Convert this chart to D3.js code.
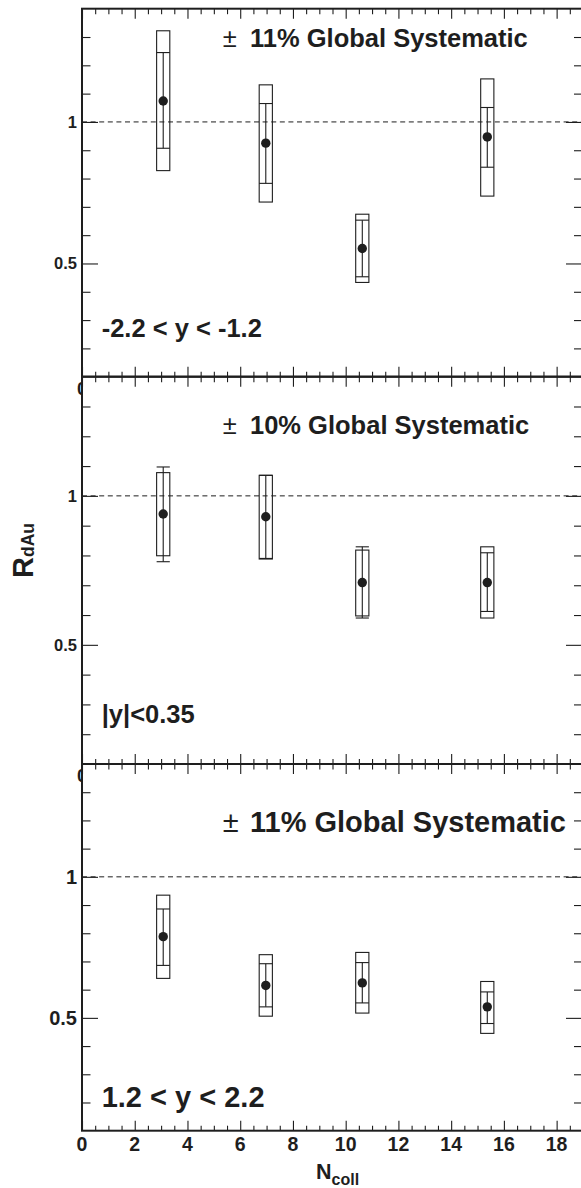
<!DOCTYPE html>
<html><head><meta charset="utf-8">
<script src="https://cdn.jsdelivr.net/npm/d3@7"></script>
<style>
body{margin:0;background:#fff}
svg{display:block}
text{font-family:"Liberation Sans",Arial,Helvetica,sans-serif;fill:#1e1e1e}
</style>
</head><body>
<svg id="c" width="581" height="1188"></svg>
<script>
// ---------------- data ----------------
const ncoll = [3.08, 6.97, 10.63, 15.37];

const rapidityLabels = ["-2.2 < y < -1.2", "|y|<0.35", "1.2 < y < 2.2"];
const globalSyst = ["11%", "10%", "11%"];

// panel 1 : -2.2 < y < -1.2
const p1Val    = [1.074, 0.925, 0.553, 0.947];
const p1StatHi = [1.245, 1.065, 0.653, 1.051];
const p1StatLo = [0.907, 0.783, 0.453, 0.840];
const p1SysHi  = [1.322, 1.131, 0.674, 1.152];
const p1SysLo  = [0.828, 0.717, 0.433, 0.738];

// panel 2 : |y| < 0.35
const p2Val    = [0.939, 0.930, 0.709, 0.709];
const p2StatHi = [1.097, 1.069, 0.829, 0.809];
const p2StatLo = [0.779, 0.790, 0.590, 0.612];
const p2SysHi  = [1.078, 1.069, 0.818, 0.829];
const p2SysLo  = [0.799, 0.788, 0.597, 0.590];

// panel 3 : 1.2 < y < 2.2
const p3Val    = [0.788, 0.615, 0.624, 0.539];
const p3StatHi = [0.886, 0.692, 0.696, 0.592];
const p3StatLo = [0.686, 0.539, 0.553, 0.480];
const p3SysHi  = [0.935, 0.724, 0.732, 0.629];
const p3SysLo  = [0.640, 0.506, 0.517, 0.445];

const xMajorTicks = [0, 2, 4, 6, 8, 10, 12, 14, 16, 18];
const yMajorTicks = [0.5, 1];
const yTickLabels = ["0.5", "1"];

// ---------------- layout ----------------
const svg = d3.select("#c");
const ink = "#1e1e1e";
const xDomain = [0, 19];
const yDomain = [0.1, 1.4];
const x = d3.scaleLinear().domain(xDomain).range([82, 583]);
const boxHalf = 0.25;

const panels = [
  {top: 8.7,   bottom: 376.7, val: p1Val, sHi: p1StatHi, sLo: p1StatLo, yHi: p1SysHi, yLo: p1SysLo,
   big: 25.5, ylab: 16.5, sysBase: 46.7, rapBase: 336.7},
  {top: 376.7, bottom: 764,   val: p2Val, sHi: p2StatHi, sLo: p2StatLo, yHi: p2SysHi, yLo: p2SysLo,
   big: 25.5, ylab: 16.5, sysBase: 434, rapBase: 723.3},
  {top: 764,   bottom: 1130.7, val: p3Val, sHi: p3StatHi, sLo: p3StatLo, yHi: p3SysHi, yLo: p3SysLo,
   big: 29, ylab: 20, sysBase: 831.7, rapBase: 1106.7}
];

const xMinor = d3.range(0, 19.01, 0.5).filter(v => !xMajorTicks.includes(v));
const yMinor = d3.range(0.2, 1.35, 0.1).map(v => +v.toFixed(2)).filter(v => !yMajorTicks.includes(v));

svg.append("defs").append("clipPath").attr("id", "leftclip")
  .append("rect").attr("x", 0).attr("y", 0).attr("width", 81).attr("height", 1188);

panels.forEach((p, i) => {
  const y = d3.scaleLinear().domain(yDomain).range([p.bottom, p.top]);
  const g = svg.append("g");

  // dashed line at 1
  g.append("line")
    .attr("x1", x(0)).attr("x2", x(19))
    .attr("y1", y(1)).attr("y2", y(1))
    .attr("stroke", ink).attr("stroke-width", 1)
    .attr("stroke-dasharray", "5,3.6");

  // axes helper
  function ticks(axisGen, scale, values, size, transform) {
    const ax = axisGen(scale).tickValues(values).tickSize(size).tickFormat("");
    const a = g.append("g").attr("transform", transform).call(ax);
    a.select(".domain").remove();
    a.selectAll("line").attr("stroke", ink).attr("stroke-width", 1.1);
    return a;
  }
  // bottom axis (ticks up)
  ticks(d3.axisBottom, x, xMajorTicks, -10, `translate(0,${p.bottom})`);
  ticks(d3.axisBottom, x, xMinor, -5, `translate(0,${p.bottom})`);
  // top axis (ticks down)
  ticks(d3.axisTop, x, xMajorTicks, -10, `translate(0,${p.top})`);
  ticks(d3.axisTop, x, xMinor, -5.5, `translate(0,${p.top})`);
  // left axis (ticks right)
  ticks(d3.axisLeft, y, yMajorTicks, -16, `translate(${x(0)},0)`);
  ticks(d3.axisLeft, y, yMinor, -8.5, `translate(${x(0)},0)`);
  // right axis (ticks left)
  ticks(d3.axisRight, y, yMajorTicks, -17, `translate(${x(19)},0)`);
  ticks(d3.axisRight, y, yMinor, -9, `translate(${x(19)},0)`);

  // frame
  g.append("rect")
    .attr("x", x(0)).attr("y", p.top)
    .attr("width", x(19) - x(0)).attr("height", p.bottom - p.top)
    .attr("fill", "none").attr("stroke", ink).attr("stroke-width", 2);

  // y tick labels
  g.selectAll("text.ylab").data(yMajorTicks).enter().append("text")
    .attr("x", 77).attr("y", d => y(d)).attr("dy", "0.36em")
    .attr("text-anchor", "end").attr("font-weight", "bold")
    .attr("font-size", p.ylab)
    .text((d, k) => yTickLabels[k]);

  // data
  const pts = ncoll.map((n, k) => ({n, v: p.val[k], sHi: p.sHi[k], sLo: p.sLo[k], yHi: p.yHi[k], yLo: p.yLo[k]}));
  const pg = g.append("g").attr("stroke", ink).attr("fill", "none").attr("stroke-width", 1.1);
  // systematic boxes
  pg.selectAll("rect.sys").data(pts).enter().append("rect")
    .attr("x", d => x(d.n - boxHalf)).attr("width", d => x(d.n + boxHalf) - x(d.n - boxHalf))
    .attr("y", d => y(d.yHi)).attr("height", d => y(d.yLo) - y(d.yHi));
  // stat error bars
  pg.selectAll("line.err").data(pts).enter().append("line")
    .attr("x1", d => x(d.n)).attr("x2", d => x(d.n))
    .attr("y1", d => y(d.sHi)).attr("y2", d => y(d.sLo));
  pg.selectAll("line.capHi").data(pts).enter().append("line")
    .attr("x1", d => x(d.n - boxHalf)).attr("x2", d => x(d.n + boxHalf))
    .attr("y1", d => y(d.sHi)).attr("y2", d => y(d.sHi));
  pg.selectAll("line.capLo").data(pts).enter().append("line")
    .attr("x1", d => x(d.n - boxHalf)).attr("x2", d => x(d.n + boxHalf))
    .attr("y1", d => y(d.sLo)).attr("y2", d => y(d.sLo));
  // markers
  g.selectAll("circle.m").data(pts).enter().append("circle")
    .attr("cx", d => x(d.n)).attr("cy", d => y(d.v)).attr("r", 4.7)
    .attr("fill", ink);

  // global systematic text
  g.append("text").attr("x", 222.7).attr("y", p.sysBase)
    .attr("font-size", p.big).attr("font-weight", "normal").text("±");
  g.append("text").attr("x", 250).attr("y", p.sysBase)
    .attr("font-size", p.big).attr("font-weight", "bold")
    .text(globalSyst[i] + " Global Systematic");

  // rapidity label
  g.append("text").attr("x", 101.7).attr("y", p.rapBase)
    .attr("font-size", p.big).attr("font-weight", "bold")
    .text(rapidityLabels[i]);

  // x tick labels
  if (i === 2) {
    g.selectAll("text.xl").data(xMajorTicks).enter().append("text")
      .attr("x", d => x(d)).attr("y", p.bottom + 20)
      .attr("text-anchor", "middle").attr("font-weight", "bold").attr("font-size", 19.5)
      .text(d => d);
  } else {
    g.append("text").attr("x", x(0)).attr("y", p.bottom + 17.8)
      .attr("text-anchor", "middle").attr("font-weight", "bold").attr("font-size", 18)
      .attr("clip-path", "url(#leftclip)").text("0");
  }
});

// x axis title
const xt = svg.append("text").attr("x", 316).attr("y", 1178.5)
  .attr("font-weight", "bold").attr("font-size", 21.5);
xt.append("tspan").text("N");
xt.append("tspan").attr("font-size", 16).attr("dy", 6.5).text("coll");

// y axis title
const yt = svg.append("text")
  .attr("transform", "translate(32.5,578) rotate(-90)")
  .attr("font-weight", "bold").attr("font-size", 29);
yt.append("tspan").text("R");
yt.append("tspan").attr("font-size", 17.5).attr("dy", 1.5).text("dAu");
</script>
</body></html>
